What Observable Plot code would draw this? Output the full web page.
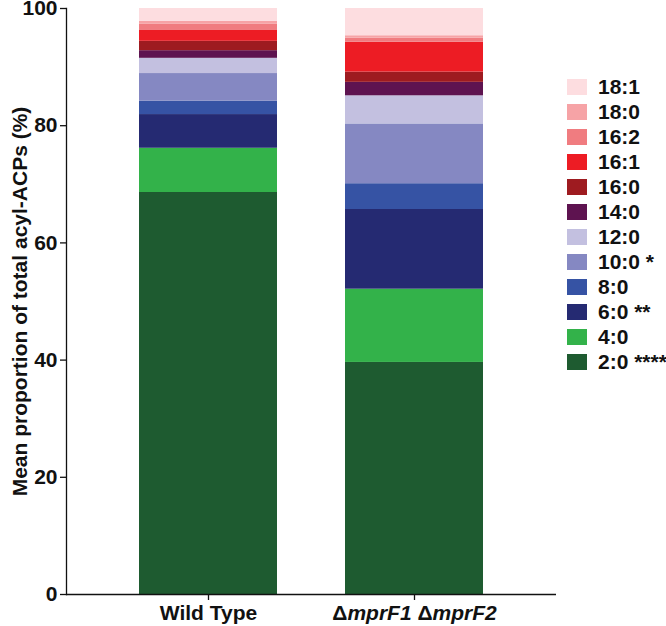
<!DOCTYPE html>
<html>
<head>
<meta charset="utf-8">
<script src="https://cdn.jsdelivr.net/npm/d3@7"></script>
<script src="https://cdn.jsdelivr.net/npm/@observablehq/plot@0.6"></script>
<style>
  html, body { margin: 0; padding: 0; background: #fff; }
  #wrap { position: relative; width: 666px; height: 626px; font-family: "Liberation Sans", Arial, sans-serif; }
  #legend { position: absolute; left: 567px; top: 0; }
  .item { position: absolute; left: 0; width: 99px; height: 22px; display: flex; align-items: center; white-space: nowrap; }
  .sw { width: 20px; height: 16px; margin-right: 11px; flex: none; }
  .lab { font-size: 21px; font-weight: bold; color: #111; line-height: 22px; }
</style>
</head>
<body>
<div id="wrap"><div id="chart"></div><div id="legend"></div></div>
<script>
// Lipid species, bottom to top of each stack
const lipids = ["2:0", "4:0", "6:0", "8:0", "10:0", "12:0", "14:0", "16:0", "16:1", "16:2", "18:0", "18:1"];
const significance = ["****", "", "**", "", "*", "", "", "", "", "", "", ""];
const colors = ["#1e5b30", "#33b24a", "#252a72", "#3653a4", "#8588c2", "#c3c0e0", "#5e1350", "#9e1b20", "#ed1c24", "#f07c80", "#f6a3a6", "#fddde0"];
const strains = ["Wild Type", "ΔmprF1 ΔmprF2"];
const wildType = [68.6, 7.55, 5.75, 2.3, 4.7, 2.6, 1.3, 1.6, 1.85, 1.05, 0.5, 2.2];
const mutant = [39.6, 12.5, 13.6, 4.4, 10.2, 4.8, 2.3, 1.75, 5.1, 0.7, 0.4, 4.65];
const yTicks = [0, 20, 40, 60, 80, 100];

const table = [];
[wildType, mutant].forEach((vals, s) => {
  lipids.forEach((l, i) => table.push({strain: strains[s], lipid: l, value: vals[i]}));
});

const font = "Liberation Sans, Arial, sans-serif";
const plot = Plot.plot({
  width: 666,
  height: 626,
  marginLeft: 66,
  marginRight: 110,
  marginTop: 8,
  marginBottom: 32,
  style: {fontFamily: font, background: "white", color: "#111"},
  x: {domain: strains, paddingInner: 0.33, paddingOuter: 0.354},
  y: {domain: [0, 100]},
  color: {domain: lipids, range: colors},
  marks: [
    Plot.barY(table, {x: "strain", y: "value", fill: "lipid", order: null}),
    Plot.frame({anchor: "left", stroke: "#111", strokeWidth: 1.3}),
    Plot.ruleY([0], {stroke: "#111", strokeWidth: 1.3}),
    Plot.axisY({ticks: yTicks, tickSize: 6, tickPadding: 3, fontSize: 21, fontWeight: "bold",
      strokeWidth: 1.3, label: "Mean proportion of total acyl-ACPs (%)", labelArrow: "none",
      labelAnchor: "center", labelOffset: 54}),
    Plot.axisX({tickSize: 6, tickPadding: 5, fontSize: 21, fontWeight: "bold", strokeWidth: 1.3, label: null})
  ]
});
document.getElementById("chart").appendChild(plot);

// y-axis title styling
plot.querySelectorAll("g[aria-label='y-axis label'] text").forEach(t => {
  t.setAttribute("font-size", 21);
  t.setAttribute("font-weight", "bold");
});
// Italic gene names in the mutant label
plot.querySelectorAll("g[aria-label='x-axis tick label'] text").forEach(t => {
  if (t.textContent.includes("mprF")) {
    const ns = "http://www.w3.org/2000/svg";
    const parts = [["Δ", "normal"], ["mprF1", "italic"], [" Δ", "normal"], ["mprF2", "italic"]];
    t.textContent = "";
    parts.forEach(([s, st]) => {
      const ts = document.createElementNS(ns, "tspan");
      ts.textContent = s;
      ts.setAttribute("font-style", st);
      t.appendChild(ts);
    });
  }
});

// Legend (top to bottom: reverse of stack order)
const legend = document.getElementById("legend");
lipids.slice().reverse().forEach((l, i) => {
  const idx = lipids.indexOf(l);
  const item = document.createElement("div");
  item.className = "item";
  item.style.top = (76 + 25 * i) + "px";
  const sw = document.createElement("div");
  sw.className = "sw";
  sw.style.background = colors[idx];
  const lab = document.createElement("span");
  lab.className = "lab";
  lab.textContent = l + (significance[idx] ? " " + significance[idx] : "");
  item.appendChild(sw);
  item.appendChild(lab);
  legend.appendChild(item);
});
</script>
</body>
</html>
